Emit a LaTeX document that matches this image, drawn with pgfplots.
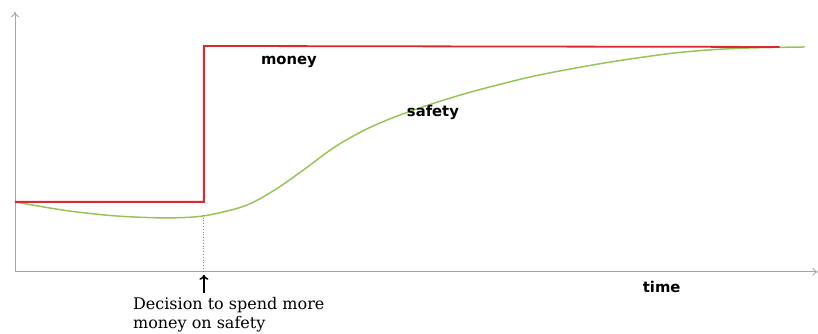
\documentclass[border=0pt]{standalone}
\usepackage{pgfplots}
\pgfplotsset{compat=1.18}
\usepackage{fontspec}
\setmainfont{DejaVu Serif}
\newfontfamily\labfont{DejaVu Sans}
\usetikzlibrary{arrows.meta}
\definecolor{axisblue}{HTML}{8EACC4}
\definecolor{moneyred}{HTML}{D92B2F}
\definecolor{safegreen}{HTML}{97C45A}
\begin{document}
\begin{tikzpicture}
\begin{axis}[
  scale only axis,
  width=803pt, height=260pt,
  xmin=0, xmax=803, ymin=0, ymax=260,
  axis lines=left,
  axis line style={draw=axisblue, line width=0.9pt, -{To[length=5pt,width=8pt]}},
  ticks=none,
  clip=false,
]
\path (axis cs:-15,-62) rectangle (axis cs:803,272);
\addplot[safegreen, line width=1.5pt, smooth, tension=0.5] coordinates {
(0,70) (50,61.5) (100,56) (150,54) (189,56) (230,66) (260,82) (290,103)
(320,125) (350,142) (380,155) (420,169) (460,181) (520,196) (590,209)
(660,219) (720,223.5) (790,225)
};
\addplot[moneyred, line width=1.8pt] coordinates {
(0,70) (189,70) (189,226) (765,225)
};
\addplot[axisblue!80!black, dotted, line width=0.8pt] coordinates {(189,57) (189,0)};
\draw[black, line width=1.5pt, -{To[length=5pt,width=9pt]}] (axis cs:189,-21) -- (axis cs:189,-3);
\node[anchor=base west, inner sep=0pt, font=\labfont\bfseries\fontsize{14.8}{17}\selectfont] at (axis cs:246,207) {money};
\node[anchor=base west, inner sep=0pt, font=\labfont\bfseries\fontsize{14.8}{17}\selectfont] at (axis cs:392,155) {safety};
\node[anchor=base west, inner sep=0pt, font=\labfont\bfseries\fontsize{14.8}{17}\selectfont] at (axis cs:628,-21) {time};
\node[anchor=base west, inner sep=0pt, font=\fontsize{16}{18}\selectfont] at (axis cs:118,-38) {Decision to spend more};
\node[anchor=base west, inner sep=0pt, font=\fontsize{16}{18}\selectfont] at (axis cs:118,-57) {money on safety};
\end{axis}
\end{tikzpicture}
\end{document}
